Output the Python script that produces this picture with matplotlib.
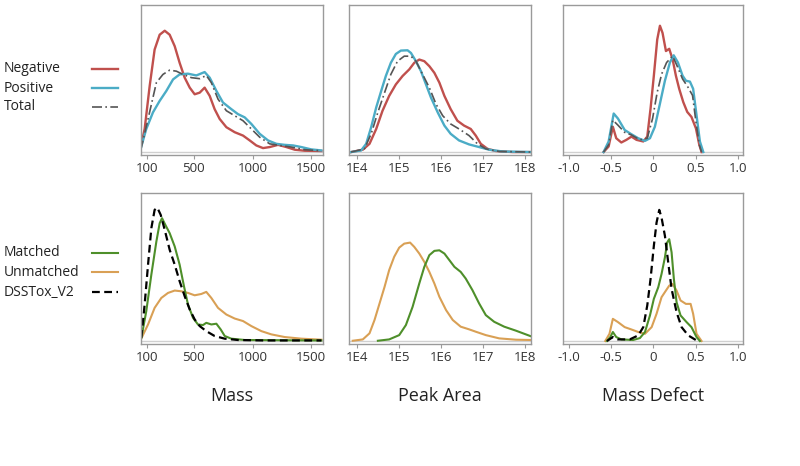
import matplotlib
matplotlib.use("Agg")
import matplotlib.pyplot as plt
from matplotlib.lines import Line2D

plt.rcParams['font.family'] = ['Open Sans', 'DejaVu Sans']

# --------------------------------------------------------------------------------------------------
# data (density curves, y in % of panel height)
# --------------------------------------------------------------------------------------------------

# Mass, top row
mass_neg_x = [47, 81, 124, 166, 209, 252, 294, 337, 379, 422, 465, 507, 550, 592, 635, 677, 720, 777,
              848, 919, 976, 1032, 1089, 1146, 1217, 1288, 1359, 1444, 1586]
mass_neg_y = [3.4, 15.7, 45, 69.7, 79.8, 82.5, 79.8, 72, 60.7, 50.6, 43.8, 39.3, 40.4, 43.8, 38.2, 29.2,
              22.5, 16.9, 13.5, 11.2, 7.9, 4.5, 2.7, 3.4, 4.9, 3.4, 1.6, 0.9, 0.7]
mass_pos_x = [47, 95, 152, 209, 266, 323, 379, 450, 521, 592, 635, 692, 748, 819, 876, 933, 990, 1061,
              1132, 1203, 1274, 1345, 1416, 1501, 1586]
mass_pos_y = [2.2, 15.7, 27, 34.8, 41.6, 49.4, 52.8, 53.3, 52.1, 54.4, 50.6, 41.6, 33.7, 29.2, 25.8, 23.6,
              19.1, 12.4, 7.9, 5.6, 4.9, 4.5, 3.4, 1.8, 1.1]
mass_tot_x = [47, 110, 181, 237, 294, 351, 408, 479, 550, 606, 649, 706, 777, 848, 919, 990, 1061, 1146,
              1231, 1330, 1444, 1586]
mass_tot_y = [1.1, 22.5, 47.2, 52.8, 55.7, 55, 52.8, 50.6, 49.9, 52.1, 47.2, 36, 28.1, 24.7, 21.3, 15.7,
              10.1, 5.6, 4.5, 3.4, 1.6, 0.9]

# Peak area (log10), top row
area_neg_x = [3.85, 4.13, 4.29, 4.45, 4.60, 4.76, 4.92, 5.08, 5.24, 5.36, 5.48, 5.60, 5.72, 5.84, 5.96,
              6.08, 6.23, 6.39, 6.55, 6.71, 6.83, 6.95, 7.11, 7.31, 7.71, 8.15]
area_neg_y = [0, 1.6, 5.6, 15.7, 28, 38.2, 46, 51.7, 56.2, 60.7, 62.9, 61.8, 58.4, 53.9, 47.2, 38.2,
              29.2, 21.3, 18, 15.7, 11.2, 5.6, 2.2, 0.7, 0, 0]
area_pos_x = [3.85, 4.09, 4.21, 4.33, 4.45, 4.57, 4.68, 4.80, 4.92, 5.04, 5.20, 5.28, 5.40, 5.52, 5.64,
              5.76, 5.92, 6.08, 6.23, 6.43, 6.67, 6.91, 7.15, 7.47, 8.15]
area_pos_y = [0, 1.1, 5.6, 16.9, 30.3, 41.6, 51.7, 60.7, 66.7, 69, 69.2, 67.4, 61.8, 55, 46, 37, 27, 18,
              12.4, 7.9, 5.2, 3.4, 1.6, 0.4, 0]
area_tot_x = [3.85, 4.17, 4.33, 4.49, 4.65, 4.80, 4.96, 5.12, 5.28, 5.40, 5.56, 5.72, 5.88, 6.04, 6.23,
              6.43, 6.67, 6.87, 7.07, 7.39, 8.15]
area_tot_y = [0, 2.2, 12.4, 27, 40.4, 52.8, 61.8, 65.2, 65.2, 61.8, 52.8, 43.8, 32.6, 24.7, 19.1, 15.7,
              11.2, 5.6, 2.2, 0.4, 0]

# Mass defect, top row
md_neg_x = [-0.59, -0.53, -0.48, -0.44, -0.38, -0.32, -0.26, -0.20, -0.12, -0.073, -0.034, 0.005, 0.045,
            0.077, 0.108, 0.148, 0.187, 0.227, 0.266, 0.305, 0.353, 0.40, 0.45, 0.503, 0.543, 0.57]
md_neg_y = [0, 3.8, 17.2, 9.4, 6.5, 8.3, 10.5, 8.3, 7.2, 10.5, 29.5, 51.9, 76.5, 85.9, 81, 68.7, 70.2,
            63.1, 51.9, 43, 34, 27.3, 23.9, 16.1, 4.9, 0]
md_pos_x = [-0.59, -0.53, -0.47, -0.42, -0.34, -0.26, -0.18, -0.10, -0.041, 0.017, 0.077, 0.136, 0.195,
            0.24, 0.29, 0.345, 0.385, 0.432, 0.47, 0.51, 0.55, 0.59]
md_pos_y = [0, 7.2, 26.2, 22.8, 15, 12.1, 9.4, 7.6, 9.4, 17.2, 32.9, 48.5, 60.9, 65.8, 60.9, 51.9, 48.5,
            47.9, 43, 25.1, 7.2, 0]
md_tot_x = [-0.59, -0.53, -0.48, -0.42, -0.34, -0.26, -0.16, -0.073, -0.01, 0.045, 0.097, 0.156, 0.227,
            0.28, 0.345, 0.41, 0.463, 0.503, 0.543, 0.57]
md_tot_y = [0, 4.9, 21.7, 18.3, 13.4, 11.6, 8.3, 9.4, 22.8, 40.7, 53, 60.9, 65.3, 58.6, 49.7, 44, 38.5,
            20.6, 4.9, 0]

# Mass, bottom row
mass_dss_x = [53, 81, 110, 138, 166, 189, 218, 252, 294, 337, 379, 422, 465, 507, 550, 606, 677, 763,
              876, 1103, 1586]
mass_dss_y = [2.2, 24.7, 51.6, 76.2, 88.6, 90.1, 85.2, 75.1, 61.7, 51.6, 40.4, 30.3, 21.3, 14.6, 10.1,
              6.7, 3.4, 1.6, 0.7, 0.4, 0.4]
mass_mat_x = [53, 95, 138, 181, 209, 229, 257, 294, 337, 379, 416, 450, 493, 535, 578, 606, 649, 692,
              729, 763, 819, 933, 1586]
mass_mat_y = [2.2, 20.2, 44.8, 67.3, 79.6, 83, 78.5, 72.9, 63.9, 51.6, 37, 24.7, 15.7, 11.2, 10.8, 12.3,
              11.2, 11.7, 7.8, 3.4, 1.6, 0.7, 0.4]
mass_unm_x = [53, 110, 166, 223, 280, 337, 394, 450, 507, 564, 606, 649, 706, 777, 848, 919, 990, 1075,
              1160, 1274, 1416, 1586]
mass_unm_y = [1.8, 11.2, 22.4, 29.1, 32.5, 34.1, 33.6, 32.5, 30.9, 31.8, 33.2, 29.1, 22.4, 17.9, 15.2,
              13.5, 10.1, 6.7, 4.5, 2.7, 1.6, 0.9]

# Peak area (log10), bottom row
area_unm_x = [3.89, 4.13, 4.29, 4.41, 4.53, 4.65, 4.76, 4.88, 5.00, 5.12, 5.26, 5.36, 5.48, 5.60, 5.72,
              5.84, 5.96, 6.12, 6.28, 6.47, 6.67, 6.83, 7.07, 7.39, 7.79, 8.15]
area_unm_y = [0.2, 1.1, 5.2, 14.2, 25.4, 36.6, 47.9, 56.9, 63.1, 65.8, 66.5, 63.6, 59.1, 53.5, 46.7,
              38.9, 29.9, 20.9, 14.2, 9.7, 7.9, 6.3, 4, 1.8, 0.9, 0.7]
area_mat_x = [4.49, 4.76, 5.00, 5.16, 5.32, 5.48, 5.60, 5.72, 5.84, 5.96, 6.08, 6.20, 6.32, 6.47, 6.59,
              6.75, 6.91, 7.07, 7.27, 7.51, 7.79, 8.15]
area_mat_y = [0.2, 1.1, 4, 10.8, 23.1, 38.9, 50.1, 58, 60.9, 61.3, 59.1, 54.6, 50.1, 46.7, 42.2, 34.4,
              25.4, 17.5, 13, 9.7, 7, 3.2]

# Mass defect, bottom row
md_dss_x = [-0.55, -0.48, -0.42, -0.28, -0.18, -0.12, -0.073, -0.034, 0.005, 0.037, 0.069, 0.096, 0.136,
            0.175, 0.215, 0.274, 0.333, 0.412, 0.51]
md_dss_y = [0, 2.7, 1.1, 1.1, 3.8, 9.4, 24, 41.9, 64.3, 80, 88.6, 83.4, 71.1, 53.1, 35.2, 19.5, 9.4,
            3.8, 0.4]
md_mat_x = [-0.55, -0.51, -0.48, -0.44, -0.38, -0.24, -0.16, -0.10, -0.041, 0.005, 0.057, 0.096, 0.136,
            0.163, 0.187, 0.215, 0.242, 0.274, 0.321, 0.392, 0.45, 0.51, 0.55]
md_mat_y = [0, 2.7, 6.1, 2.7, 1.1, 0.7, 2, 6.1, 17.3, 28.5, 36.3, 45.3, 56.5, 66.6, 68.8, 59.9, 41.9,
            26.2, 17.3, 12.8, 9.4, 2.7, 0]
md_unm_x = [-0.57, -0.52, -0.48, -0.42, -0.34, -0.26, -0.18, -0.10, -0.021, 0.037, 0.096, 0.148, 0.187,
            0.227, 0.274, 0.321, 0.384, 0.44, 0.47, 0.51, 0.57]
md_unm_y = [0, 4.9, 15, 12.8, 9.4, 7.8, 6.1, 4.9, 9.4, 18.4, 29.6, 34.1, 37.4, 38.6, 34.1, 27.4, 25.1,
            25.1, 18.4, 4.9, 0]

mass_ticks = [100, 500, 1000, 1500]
area_ticks = [4, 5, 6, 7, 8]
area_labels = ['1E4', '1E5', '1E6', '1E7', '1E8']
md_ticks = [-1.0, -0.5, 0, 0.5, 1.0]
md_labels = ['-1.0', '-0.5', '0', '0.5', '1.0']

# --------------------------------------------------------------------------------------------------
# styles
# --------------------------------------------------------------------------------------------------

RED = '#c0504d'
BLUE = '#4bacc6'
TOTAL = '#555555'
GREEN = '#4e8f2a'
ORANGE = '#d9a055'
SPINE = '#9a9a9a'

neg_kw = dict(color=RED, lw=1.7, solid_joinstyle='round')
pos_kw = dict(color=BLUE, lw=1.7, solid_joinstyle='round')
tot_kw = dict(color=TOTAL, lw=1.2, linestyle=(0, (6, 2, 1, 2)))
mat_kw = dict(color=GREEN, lw=1.5, solid_joinstyle='round')
unm_kw = dict(color=ORANGE, lw=1.5, solid_joinstyle='round')
dss_kw = dict(color='black', lw=1.6, linestyle=(0, (3.5, 2)))

fig = plt.figure(figsize=(8, 4.66), dpi=100)

W = 800.0
H = 466.0


def make_ax(x0, x1, y0, y1):
    ax = fig.add_axes([x0 / W, 1 - y1 / H, (x1 - x0) / W, (y1 - y0) / H])
    for s in ax.spines.values():
        s.set_color(SPINE)
        s.set_linewidth(1.0)
    ax.set_yticks([])
    ax.set_ylim(-2, 100)
    ax.axhline(0, color='#d0d0d0', lw=1.0, zorder=0)
    ax.tick_params(axis='x', length=3, width=0.8, color=SPINE, labelsize=9.5,
                   labelcolor='#333333', pad=2)
    return ax


def style_mass(ax):
    ax.set_xlim(50, 1600)
    ax.set_xticks(mass_ticks)


def style_area(ax):
    ax.set_xlim(3.8, 8.15)
    ax.set_xticks(area_ticks)
    ax.set_xticklabels(area_labels)


def style_md(ax):
    ax.set_xlim(-1.07, 1.06)
    ax.set_xticks(md_ticks)
    ax.set_xticklabels(md_labels)


rows = [(5, 155), (193, 344)]
cols = [(141, 323), (349, 531), (563, 743)]

# top row
ax = make_ax(*cols[0], *rows[0])
ax.plot(mass_neg_x, mass_neg_y, **neg_kw)
ax.plot(mass_pos_x, mass_pos_y, **pos_kw)
ax.plot(mass_tot_x, mass_tot_y, **tot_kw)
style_mass(ax)

ax = make_ax(*cols[1], *rows[0])
ax.plot(area_neg_x, area_neg_y, **neg_kw)
ax.plot(area_pos_x, area_pos_y, **pos_kw)
ax.plot(area_tot_x, area_tot_y, **tot_kw)
style_area(ax)

ax = make_ax(*cols[2], *rows[0])
ax.plot(md_neg_x, md_neg_y, **neg_kw)
ax.plot(md_pos_x, md_pos_y, **pos_kw)
ax.plot(md_tot_x, md_tot_y, **tot_kw)
style_md(ax)

# bottom row
ax = make_ax(*cols[0], *rows[1])
ax.plot(mass_unm_x, mass_unm_y, **unm_kw)
ax.plot(mass_mat_x, mass_mat_y, **mat_kw)
ax.plot(mass_dss_x, mass_dss_y, **dss_kw)
style_mass(ax)

ax = make_ax(*cols[1], *rows[1])
ax.plot(area_unm_x, area_unm_y, **unm_kw)
ax.plot(area_mat_x, area_mat_y, **mat_kw)
style_area(ax)

ax = make_ax(*cols[2], *rows[1])
ax.plot(md_unm_x, md_unm_y, **unm_kw)
ax.plot(md_mat_x, md_mat_y, **mat_kw)
ax.plot(md_dss_x, md_dss_y, **dss_kw)
style_md(ax)

# legends on the left
legend_items = [
    ('Negative', 69, neg_kw), ('Positive', 88, pos_kw), ('Total', 107, tot_kw),
    ('Matched', 253, mat_kw), ('Unmatched', 272, unm_kw), ('DSSTox_V2', 292, dss_kw),
]
for label, ypix, kw in legend_items:
    fig.text(4 / W, 1 - ypix / H, label, fontsize=10, color='#222222', va='center', ha='left')
    fig.add_artist(Line2D([92 / W, 118 / W], [1 - ypix / H, 1 - ypix / H], **kw))

# column titles
for label, xpix in [('Mass', 232), ('Peak Area', 440), ('Mass Defect', 653)]:
    fig.text(xpix / W, 1 - 396 / H, label, fontsize=13, color='#222222', ha='center', va='center')

fig.savefig('out.png', dpi=100)
